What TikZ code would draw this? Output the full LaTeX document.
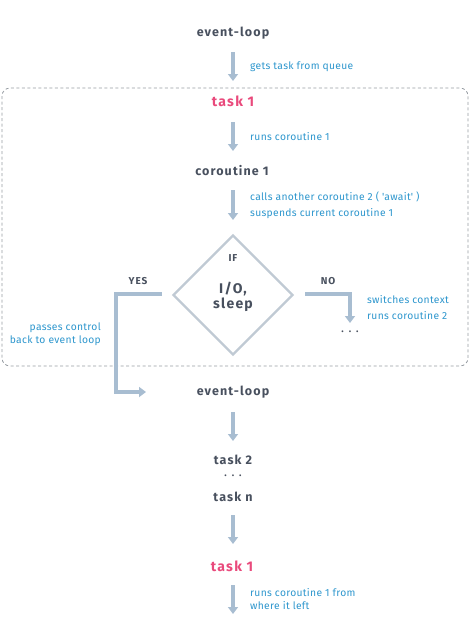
\documentclass[tikz,border=0pt]{standalone}
\usepackage{fontspec}
\setmainfont{Fira Sans}
\newfontfamily\darkfont[LetterSpace=9]{Fira Sans}
\newfontfamily\lblfont[LetterSpace=3]{Fira Sans}
\usetikzlibrary{shapes.geometric,arrows.meta}
\definecolor{darktxt}{RGB}{72,80,94}
\definecolor{pinktxt}{RGB}{233,74,124}
\definecolor{bluetxt}{RGB}{45,150,205}
\definecolor{arrowc}{RGB}{168,189,209}
\definecolor{diamc}{RGB}{192,202,212}
\definecolor{boxc}{RGB}{150,156,162}
\tikzset{
  x=1pt,y=-1pt,
  stepnode/.style={font=\darkfont\bfseries\fontsize{12.5}{14}\selectfont, text=darktxt, inner sep=1pt},
  pinknode/.style={stepnode, font=\darkfont\bfseries\fontsize{14}{16}\selectfont, text=pinktxt},
  lbl/.style={font=\lblfont\fontsize{10.3}{16}\selectfont, text=bluetxt, inner sep=0pt, align=left, anchor=west},
  lblr/.style={lbl, align=right, anchor=east},
  flow/.style={draw=arrowc, line width=3.5pt, -{Triangle[width=10pt,length=7pt]}},
}
\begin{document}
\begin{tikzpicture}
\useasboundingbox (0,0) rectangle (472,630);
% dashed frame
\draw[boxc, dashed, line width=0.8pt, dash pattern=on 3pt off 2.5pt, rounded corners=8pt] (2,88) rectangle (468,366);

\node[stepnode] (el1) at (233,33) {event-loop};
\node[pinknode] (t1) at (233,101) {task 1};
\node[stepnode] (co1) at (232,171) {coroutine 1};
\node[draw=diamc, line width=2.2pt, diamond, minimum width=120pt, minimum height=120pt, inner sep=0pt] (dec) at (233,295) {};
\node[stepnode, font=\darkfont\bfseries\fontsize{10}{12}\selectfont] (iftxt) at (233,258) {IF};
\node[stepnode, align=center, font=\darkfont\bfseries\fontsize{14}{15}\selectfont] (io) at (233,297) {I/O,\\sleep};
\node[stepnode, font=\darkfont\bfseries\fontsize{10}{12}\selectfont] (yes) at (138,281) {YES};
\node[stepnode, font=\darkfont\bfseries\fontsize{10}{12}\selectfont] (no) at (328,281) {NO};
\node[stepnode, font=\darkfont\bfseries\fontsize{10}{12}\selectfont] (dots1) at (350,332) {.\,\,\,.\,\,\,.};
\node[stepnode] (el2) at (233,392) {event-loop};
\node[stepnode] (t2) at (233,460) {task 2};
\node[stepnode, font=\darkfont\bfseries\fontsize{10}{12}\selectfont] (dots2) at (233,476) {.\,\,\,.\,\,\,.};
\node[stepnode] (tn) at (233,497) {task n};
\node[pinknode] (t1b) at (232,566) {task 1};
\coordinate (endc) at (233,614);

% arrows
\draw[flow] (233,52) -- (233,81);
\draw[flow] (233,122) -- (233,151);
\draw[flow] (233,190) -- (233,220);
\draw[flow] (233,412) -- (233,441);
\draw[flow] (233,515) -- (233,544);
\draw[flow] (233,585) -- (endc);

% YES branch
\coordinate (yesA) at (162,294);
\coordinate (yesB) at (146,392);
\draw[flow] (yesA) -- (116,294) -- (116,392) -- (yesB);
% NO branch
\coordinate (noA) at (305,294);
\coordinate (noB) at (350,323);
\draw[flow] (noA) -- (350,294) -- (noB);

% labels
\node[lbl] at (250,67) {gets task from queue};
\node[lbl] at (250,137) {runs coroutine 1};
\node[lbl] at (250,205) {calls another coroutine 2 ( \textquotesingle await\textquotesingle{} )\\suspends current coroutine 1};
\node[lblr, font=\lblfont\fontsize{10.3}{13}\selectfont] at (101,334) {passes control\\back to event loop};
\node[lbl] at (367,308) {switches context\\runs coroutine 2};
\node[lbl, font=\lblfont\fontsize{10.3}{13}\selectfont] at (250,599.5) {runs coroutine 1 from\\where it left};
\end{tikzpicture}
\end{document}
